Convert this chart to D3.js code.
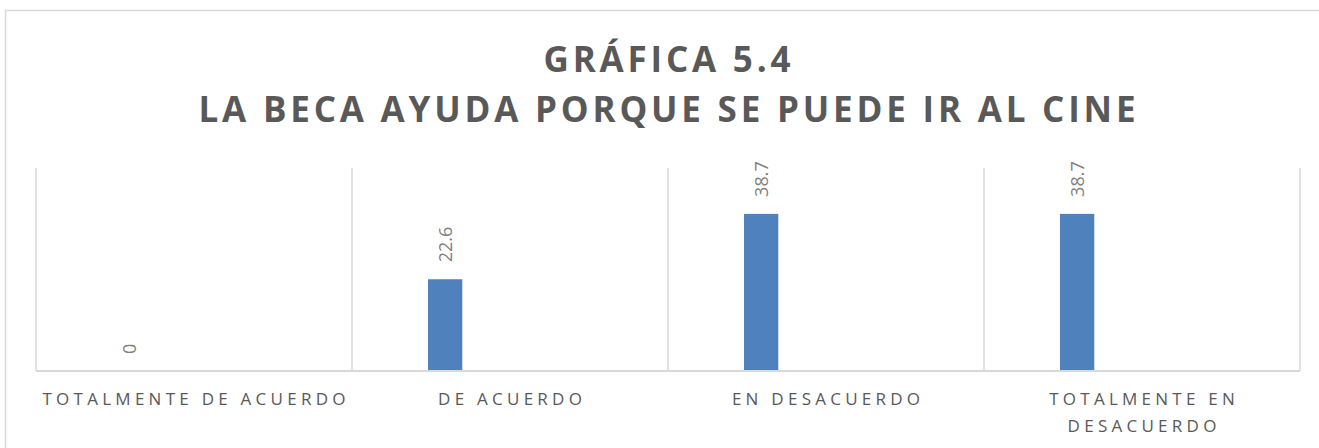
<!DOCTYPE html>
<html>
<head>
<meta charset="utf-8">
<script src="https://cdn.jsdelivr.net/npm/d3@7"></script>
<style>
  html, body { margin: 0; padding: 0; background: #fff; }
  svg { display: block; }
</style>
</head>
<body>
<svg id="chart" width="1319" height="448"></svg>
<script>
// ---- data ----
const categories = ["TOTALMENTE DE ACUERDO", "DE ACUERDO", "EN DESACUERDO", "TOTALMENTE EN DESACUERDO"];
const categoryLines = [["TOTALMENTE DE ACUERDO"], ["DE ACUERDO"], ["EN DESACUERDO"], ["TOTALMENTE EN", "DESACUERDO"]];
const values = [0, 22.6, 38.7, 38.7];
const valueLabels = ["0", "22.6", "38.7", "38.7"];
const titleLines = ["GRÁFICA 5.4", "LA BECA AYUDA PORQUE SE PUEDE IR AL CINE"];
const yDomain = [0, 50];

// ---- layout ----
const W = 1319, H = 448;
const plot = { left: 36, right: 1300, top: 168, bottom: 371 };
const gridColor = "#d9d9d9";
const barColor = "#4f81bd";
const textDark = "#595959";
const textLight = "#7f7f7f";

const svg = d3.select("#chart");

// outer chart border
svg.append("rect")
  .attr("x", 5.5).attr("y", 10.5)
  .attr("width", W + 20).attr("height", H + 20)
  .attr("fill", "#fff")
  .attr("stroke", gridColor).attr("stroke-width", 1.5);

// title
const titleG = svg.append("g")
  .attr("font-family", "'Open Sans', sans-serif")
  .attr("font-weight", 700)
  .attr("font-size", 35)
  .attr("fill", textDark);
const tBaselines = [71.5, 122];
const tNodes = titleLines.map((t, i) =>
  titleG.append("text").attr("x", 667).attr("y", tBaselines[i]).attr("text-anchor", "middle").text(t));
// fit letter spacing to reference width of line 2
{
  const n = titleLines[1].length;
  const w0 = tNodes[1].node().getComputedTextLength();
  const sp = (937 - w0) / (n - 1);
  tNodes.forEach(s => s.attr("letter-spacing", sp).attr("dx", sp / 2));
}

// scales
const x = d3.scaleBand().domain(categories).range([plot.left, plot.right]).paddingInner(0).paddingOuter(0);
const y = d3.scaleLinear().domain(yDomain).range([plot.bottom, plot.top]);
const bw = x.bandwidth();
const barOffset = bw * 0.2405, barWidth = bw * 0.1085;

// vertical category gridlines
const bounds = categories.map(c => x(c)).concat([plot.right]);
svg.append("g").selectAll("line").data(bounds).join("line")
  .attr("x1", d => d).attr("x2", d => d)
  .attr("y1", y(yDomain[1])).attr("y2", y(0))
  .attr("stroke", gridColor).attr("stroke-width", 1.5);

// bars
svg.append("g").selectAll("rect").data(values).join("rect")
  .attr("x", (d, i) => x(categories[i]) + barOffset)
  .attr("width", barWidth)
  .attr("y", d => y(d))
  .attr("height", d => y(0) - y(d))
  .attr("fill", barColor);

// baseline
svg.append("line")
  .attr("x1", plot.left).attr("x2", plot.right)
  .attr("y1", y(0)).attr("y2", y(0))
  .attr("stroke", gridColor).attr("stroke-width", 2);

// value labels (rotated)
svg.append("g").selectAll("text").data(values).join("text")
  .attr("transform", (d, i) => {
    const cx = x(categories[i]) + barOffset + barWidth / 2;
    return `translate(${cx},${y(d) - 17}) rotate(-90)`;
  })
  .attr("dy", "0.36em")
  .attr("text-anchor", "start")
  .attr("font-family", "'Open Sans', sans-serif")
  .attr("font-size", 18)
  .attr("fill", textLight)
  .text((d, i) => valueLabels[i]);

// category labels
const catG = svg.append("g")
  .attr("font-family", "'Open Sans', sans-serif")
  .attr("font-size", 17)
  .attr("fill", textDark);
const catTexts = [];
categoryLines.forEach((lines, i) => {
  lines.forEach((ln, j) => {
    const t = catG.append("text")
      .attr("x", x(categories[i]) + bw / 2)
      .attr("y", 404.5 + j * 27)
      .attr("text-anchor", "middle")
      .text(ln);
    catTexts.push(t);
  });
});
{
  const ref = catTexts[0];
  const n = categoryLines[0][0].length;
  const w0 = ref.node().getComputedTextLength();
  const sp = (303 - w0) / (n - 1);
  catTexts.forEach(t => t.attr("letter-spacing", sp).attr("dx", sp / 2));
}
</script>
</body>
</html>
